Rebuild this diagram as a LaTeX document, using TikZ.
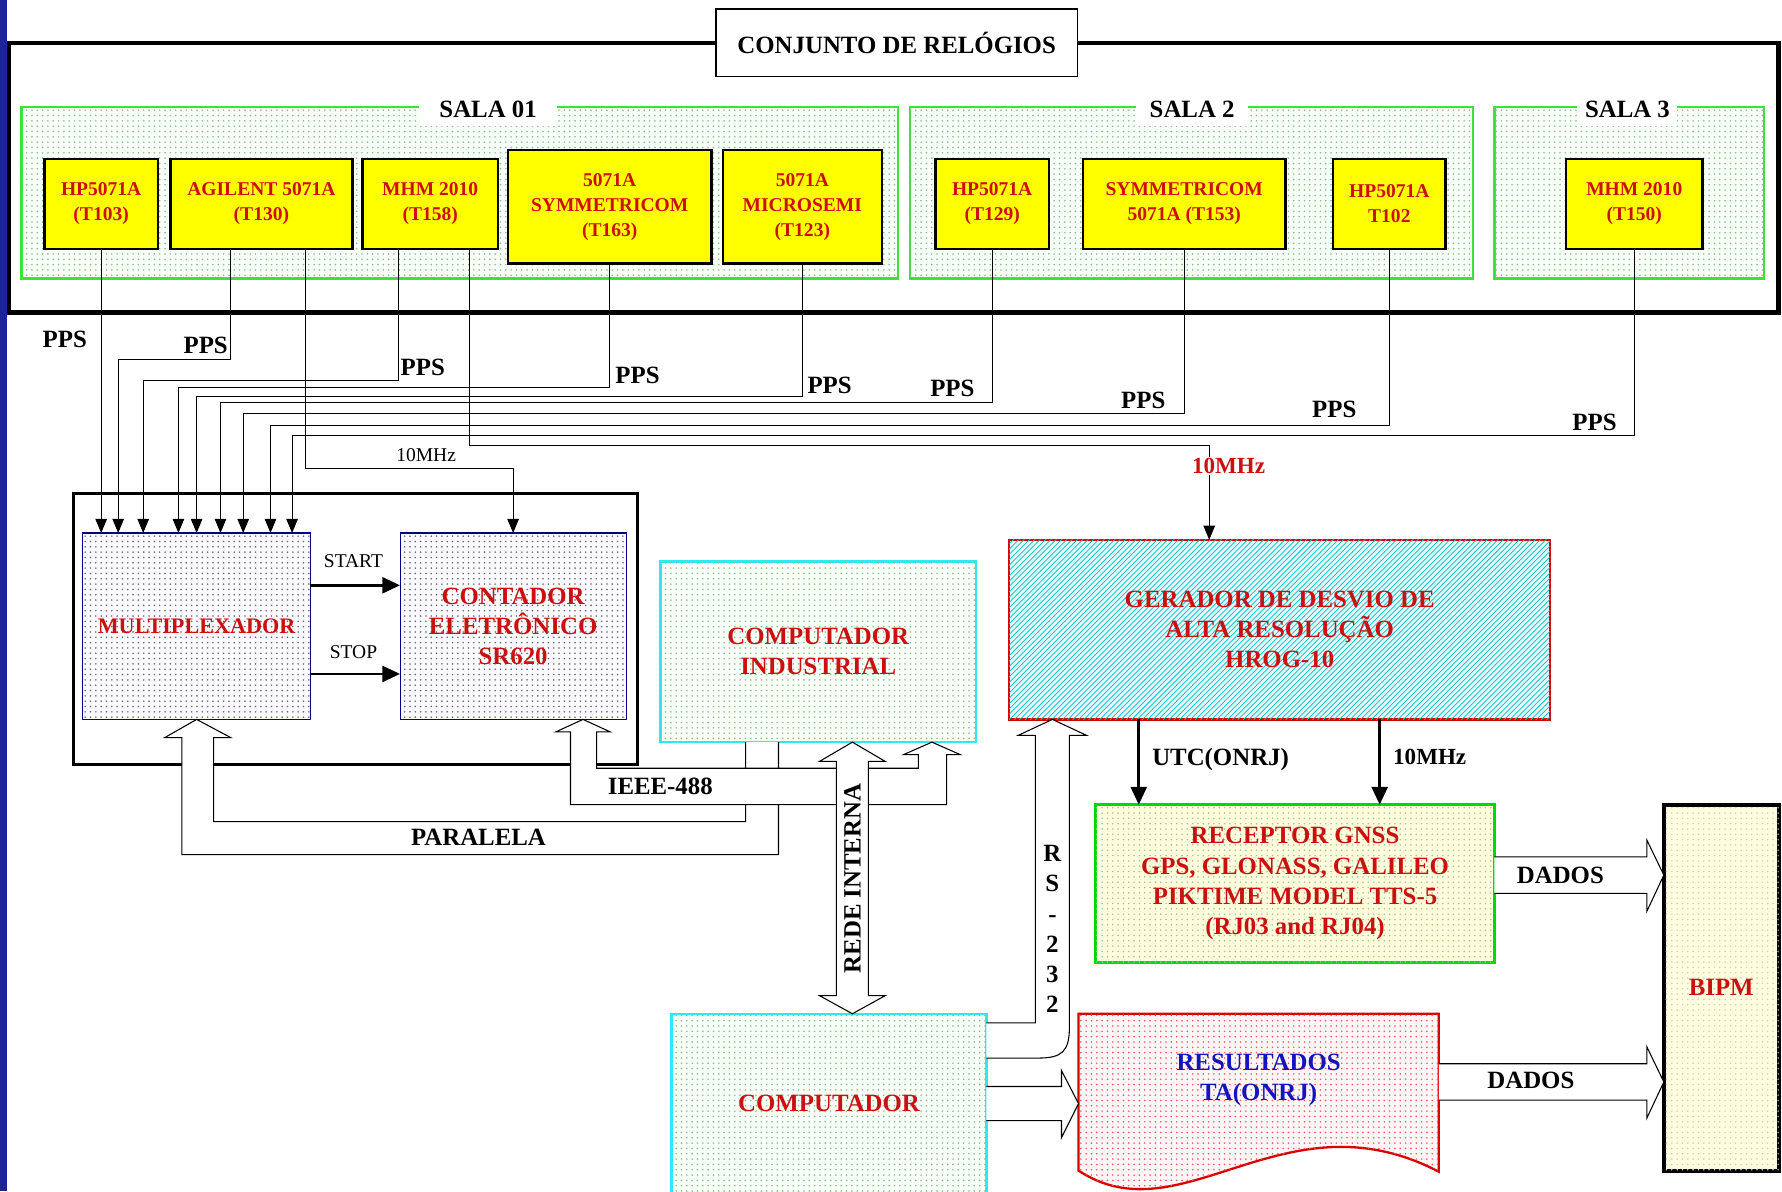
\documentclass[tikz,border=0pt]{standalone}
\usepackage{fontspec}
\setmainfont{Liberation Serif}
\usetikzlibrary{calc,patterns,arrows.meta}
\definecolor{txtred}{RGB}{204,16,16}
\definecolor{resblue}{RGB}{20,20,190}
\definecolor{roomgreen}{RGB}{60,225,60}
\definecolor{pccyan}{RGB}{40,235,245}
\definecolor{clockyellow}{RGB}{255,255,0}
\definecolor{slideblue}{RGB}{28,36,150}
\def\F#1{\fontsize{#1}{17}\selectfont\bfseries}
\def\pps(#1,#2,#3){\draw[ppswire] (#1) -- (#1 |- 0,#2) -| ($(mux.north west)+(#3,0)$);}
\tikzset{
  wh/.style 2 args={minimum width=#1*0.0225cm, minimum height=#2*0.0225cm},
  blk/.style={rectangle, inner sep=0pt, outer sep=0pt, align=center, text=txtred, font=\F{14}},
  room/.style={blk, draw=roomgreen, line width=1.3pt, fill=green!3, postaction={pattern=dots, pattern color=green!40!black!45}},
  clock/.style={blk, draw=black, line width=1.4pt, fill=clockyellow, font=\fontsize{11}{14}\selectfont\bfseries},
  instr/.style={blk, draw=blue!50!black, line width=0.6pt, fill=blue!2, postaction={pattern=dots, pattern color=black!60}},
  pc/.style={blk, draw=pccyan, line width=1.4pt, fill=green!3, postaction={pattern=dots, pattern color=green!40!black!45}},
  gen/.style={blk, draw=red!85!black, line width=1.4pt, fill=cyan!10, postaction={pattern=north east lines, pattern color=cyan!55!teal}},
  gnssbox/.style={blk, draw=green!85!black, line width=1.3pt, fill=yellow!14, postaction={pattern=dots, pattern color=green!30!black!35}},
  bipmbox/.style={blk, draw=black, line width=2.2pt, fill=yellow!12, postaction={pattern=dots, pattern color=yellow!40!black!30}},
  wire/.style={line width=0.6pt},
  ppswire/.style={wire, -{Triangle[length=8pt,width=6.5pt]}},
  fatarr/.style={line width=1.5pt, -{Triangle[length=10pt,width=9pt]}},
  hollow/.style={draw, line width=0.6pt, fill=white},
  lbl/.style={font=\F{14}, inner sep=1pt},
  smalllbl/.style={font=\fontsize{11}{13}\selectfont, inner sep=1pt},
}
\begin{document}
\begin{tikzpicture}[x=0.0225cm, y=-0.0225cm]
\useasboundingbox (0,0) rectangle (1568,1048);
\clip (0,0) rectangle (1568,1048);
\fill[slideblue] (0,0) rectangle (6,1048);
% clock ensemble
\draw[line width=2.4pt] (8,38) rectangle (1565,275);
\node[blk, draw, line width=0.7pt, fill=white, text=black, wh={318}{59}] (conj) at (789,37.5) {CONJUNTO DE RELÓGIOS};
\node[room, wh={771}{151}] (sala1) at (404.5,169.5) {};
\node[room, wh={495}{151}] (sala2) at (1048.5,169.5) {};
\node[room, wh={237}{151}] (sala3) at (1433.5,169.5) {};
\node[lbl, fill=white, wh={121}{30}] (s1) at (429.5,96) {SALA 01};
\node[lbl, fill=white, wh={98}{30}] (s2) at (1049,96) {SALA 2};
\node[lbl, fill=white, wh={88}{30}] (s3) at (1432,96) {SALA 3};
\node[clock, wh={100}{79}] (t103) at (89,179.5) {HP5071A\\(T103)};
\node[clock, wh={160}{79}] (t130) at (230,179.5) {AGILENT 5071A\\(T130)};
\node[clock, wh={119}{79}] (t158) at (378.5,179.5) {MHM 2010\\(T158)};
\node[clock, wh={179}{100}] (t163) at (536.5,182) {5071A\\SYMMETRICOM\\(T163)};
\node[clock, wh={140}{100}] (t123) at (706,182) {5071A\\MICROSEMI\\(T123)};
\node[clock, wh={100}{79}] (t129) at (873,179.5) {HP5071A\\(T129)};
\node[clock, wh={178}{79}] (t153) at (1042,179.5) {SYMMETRICOM\\5071A (T153)};
\node[clock, wh={99}{79}] (t102) at (1222.5,179.5) {HP5071A\\T102};
\node[clock, wh={120}{79}] (t150) at (1438,179.5) {MHM 2010\\(T150)};
% measurement system
\draw[line width=1.8pt] (65,434) rectangle (561,673);
\node[instr, wh={200}{164}, font=\F{12.5}] (mux) at (173,551) {MULTIPLEXADOR};
\node[instr, wh={199}{164}] (cnt) at (451.5,551) {CONTADOR\\ELETRÔNICO\\SR620};
\node[pc, wh={278}{159}] (ind) at (720,573.5) {COMPUTADOR\\INDUSTRIAL};
\node[gen, wh={476}{158}] (ger) at (1126,554) {GERADOR DE DESVIO DE\\ALTA RESOLUÇÃO\\HROG-10};
\node[gnssbox, wh={351}{139}] (gnss) at (1139.5,777.5) {RECEPTOR GNSS\\GPS, GLONASS, GALILEO\\PIKTIME MODEL TTS-5\\(RJ03 and RJ04)};
\node[bipmbox, wh={101}{322}] (bipm) at (1514.5,869) {BIPM};
\node[pc, wh={277}{158}] (comp) at (729.5,971) {COMPUTADOR};
\draw[draw=red!85!black, line width=1.3pt, fill=red!3, postaction={pattern=dots, pattern color=red!65}]
  (949,892) -- (1266,892) -- (1266,1031) .. controls (1130,960) and (1040,1090) .. (949,1030) -- cycle;
\node[blk, text=resblue, wh={317}{117}] (res) at (1107.5,950.5) {RESULTADOS\\TA(ONRJ)};
% PPS and 10MHz wiring
\coordinate (ag1) at ($(t130.south)+(-27,0)$);
\coordinate (ag2) at ($(t130.south)+(39,0)$);
\coordinate (mh1) at ($(t158.south)+(-27.5,0)$);
\coordinate (mh2) at ($(t158.south)+(34.5,0)$);
\draw[ppswire] (t103.south) -- (t103.south |- mux.north);
\pps(ag1,316,31)
\pps(mh1,335,53)
\pps(t163.south,341,84)
\pps(t123.south,349,100)
\pps(t129.south,354,121)
\pps(t153.south,364,141)
\pps(t102.south,374,165)
\pps(t150.south,383,184)
\draw[ppswire] (mh2) -- (mh2 |- 0,392) -| ($(ger.north)+(-62,0)$);
\draw[ppswire] (ag2) -- (ag2 |- 0,412) -| (cnt.north);
\foreach \n/\x/\y in {1/57/299, 2/181/304, 3/372/323, 4/561/330, 5/730/339, 6/838/342, 7/1006/352, 8/1174/360, 9/1403/372}
  \node[lbl] (pps\n) at (\x,\y) {PPS};
\node[smalllbl] (f10c) at (375,400) {10MHz};
\node[lbl, font=\F{13}, text=txtred, fill=white, inner sep=0.5pt] (f10g) at (1081,410) {10MHz};
% start / stop
\coordinate (st) at ($(mux.east)+(0,-36)$);
\coordinate (sp) at ($(mux.east)+(0,42)$);
\draw[fatarr] (st) -- (st -| cnt.west);
\draw[fatarr] (sp) -- (sp -| cnt.west);
\node[smalllbl] (start) at (311,494) {START};
\node[smalllbl] (stop) at (311,574) {STOP};
% buses
\draw[hollow] (ind.south west) ++(75,0) -- ++(0,70) -| (188,649) -- ++(15,0) -- (mux.south)
  -- (145,649) -- ++(15,0) |- (685,752) -- ++(0,-99);
\draw[hollow] (cnt.south east) ++(-38,0) -- ++(24,11) -- ++(-12,0) |- (808,676) -- ++(0,-12) -- ++(-13,0)
  -- ($(ind.south west)+(239,0)$) -- ++(25,11) -- ++(-12,0) |- (502,708) -- ++(0,-64) -- ++(-13,0) -- cycle;
\draw[hollow] (ind.south) ++(30,0) -- ++(29,17) -- ++(-15,0) -- ++(0,206) -- ++(15,0) -- ($(comp.north)+(20.5,0)$)
  -- ++(-29,-16) -- ++(15,0) -- ++(0,-206) -- ++(-15,0) -- cycle;
\draw[hollow] (comp.north east) ++(0,8) -- (911,900) -- (911,647) -- (896,647) -- ($(ger.south west)+(38,0)$)
  -- (956,647) -- (941,647) -- (941,903) .. controls (941,925) and (935,931) .. (913,931) -- (comp.east |- 0,931);
\draw[hollow] (comp.east) ++(0,-15) -- ++(66,0) -- ++(0,-14) -- (comp.east -| res.west) -- ++(-15,30) -- ++(0,-15) -- ++(-66,0);
\draw[hollow] (gnss.east) ++(0,-23.5) -- ++(134,0) -- ++(0,-15) -- ++(15,31) -- ++(-15,32) -- ++(0,-16) -- ++(-134,0);
\draw[hollow] (res.east) ++(0,-14.5) -- ++(183,0) -- ++(0,-15) -- ++(15,31) -- ++(-15,32) -- ++(0,-16) -- ++(-183,0);
\node[lbl] (ieee) at (581,692) {IEEE-488};
\node[lbl] (par) at (421,737) {PARALELA};
\node[lbl, rotate=90] (rede) at (750,773) {REDE INTERNA};
\node[lbl, align=center] (rs) at (926,817.5) {R\\S\\-\\2\\3\\2};
\node[lbl] (dados1) at (1373,770) {DADOS};
\node[lbl] (dados2) at (1347,951) {DADOS};
% GPS link
\coordinate (utc) at ($(ger.south)+(-124,0)$);
\coordinate (f10) at ($(ger.south)+(88,0)$);
\draw[fatarr] (utc) -- (utc |- gnss.north);
\draw[fatarr] (f10) -- (f10 |- gnss.north);
\node[lbl] (utcl) at (1074,668) {UTC(ONRJ)};
\node[lbl, font=\F{13}] (f10l) at (1258,666) {10MHz};
\end{tikzpicture}
\end{document}
